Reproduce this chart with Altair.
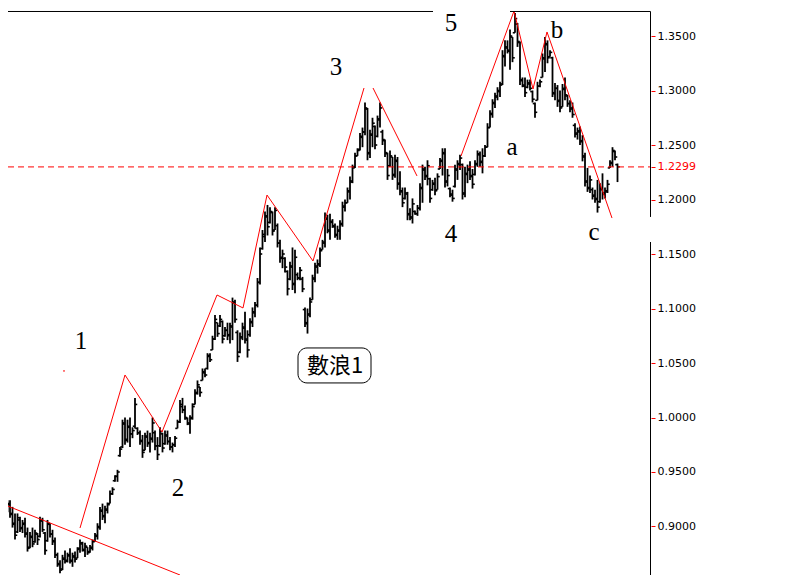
import altair as alt
import pandas as pd

# OHLC bars, prices in thousandths (e.g. 933 -> 0.933)
HIGH = [933,921,924,924,918,912,912,909,906,908, 899,895,899,897,894,909,908,895,906,903,
        897,890,876,869,874,878,876,880,876,877, 881,888,886,885,881,883,888,894,903,918,
        921,919,922,933,936,947,952,973,
        998,1000,998,1000,991,1018,991,988,984,986, 988,986,1000,988,982,991,986,988,988,982,
        977,983,998,1016,1018,1011,1000,1002,1013,1026, 1034,1028,
        1045,1045,1059,1059,1075,1094,1087,1094,1089,1083, 1087,1087,1110,1108,1080,1078,1087,1097,1080,1091,
        1101,1106,1128,1156,1172,1189,1195,1193,1189,1193, 1178,1163,1154,1147,1135,1143,1156,1154,1133,1138,
        1129,1101,1100,1110,1131,1142,1145,1156,1163,1188, 1186,1187,
        1182,1178,1176,1181,1198,1200,1211,1221,1232,1243, 1247,1261,1266,1289,1284,1264,1275,1268,1277,1289,
        1264,1255,1243,1245,1239,1241,1239,1226,1211,1211, 1207,1192,1201,1190,1195,1215,1232,1230,1236,1220,
        1218,1220,1224,1238,1247,1247,1228,1211,1209,1232, 1236,1241,1233,1230,1232,1235,1228,1236,1245,
        1244,1247,1250,1270,1282,1292,1298,1303,1308,1337, 1346,1346,1356,1349,1371,1362,1345,1312,1312,1310,
        1310,1300,1289,1308,1310,1334,1349,1346,1337,1331, 1307,1305,1300,1306,1312,1296,1291,1289,1270,1266,
        1267,1259,1243,1229,1222,1211,1209,1218,1215,1224, 1211,1218,1236,1248,1245,1233]
LOW = [910,909,913,908,899,888,894,895,894,890, 877,880,881,885,883,890,895,874,886,890,
       883,871,863,857,860,866,867,866,863,867, 871,876,877,872,874,876,878,886,888,897,
       906,903,912,921,929,941,941,964,
       972,975,977,973,981,990,984,975,963,970, 973,968,977,970,961,973,968,975,975,970,
       968,973,990,995,1004,998,993,985,998,1012, 1021,1019,
       1034,1037,1044,1051,1062,1071,1074,1083,1068,1074, 1071,1068,1071,1087,1051,1059,1071,1068,1055,1074,
       1083,1092,1101,1122,1154,1161,1167,1178,1167,1172, 1156,1142,1137,1133,1112,1126,1117,1114,1126,1126,
       1115,1083,1077,1092,1108,1124,1132,1138,1154,1156, 1169,1163,
       1174,1165,1163,1163,1175,1189,1197,1200,1215,1229, 1240,1245,1248,1259,1236,1238,1248,1246,1257,1266,
       1250,1239,1218,1230,1218,1220,1209,1204,1193,1200, 1181,1181,1178,1186,1185,1190,1197,1218,1213,1197,
       1208,1204,1209,1228,1222,1211,1212,1202,1198,1211, 1218,1227,1200,1202,1215,1218,1210,1222,1230,
       1230,1224,1239,1248,1266,1275,1284,1291,1294,1305, 1322,1334,1319,1326,1353,1340,1305,1303,1294,1302,
       1300,1289,1275,1291,1303,1312,1317,1325,1331,1294, 1291,1285,1280,1285,1291,1285,1280,1275,1257,1255,
       1250,1235,1212,1207,1206,1200,1197,1188,1197,1200, 1201,1206,1229,1230,1236,1216]
OPEN = [915,920,914,920,912,903,895,906,899,903, 894,881,890,886,893,891,905,894,887,902,
        893,886,874,865,861,870,869,873,868,872, 871,880,884,878,881,877,880,887,891,899,
        914,910,915,921,930,942,946,965,
        973,994,979,991,985,992,990,986,978,970, 982,977,980,986,974,974,985,976,983,978,
        973,975,990,996,1010,1007,999,994,1000,1012, 1023,1030,
        1034,1041,1045,1057,1062,1072,1088,1084,1088,1075, 1080,1076,1083,1105,1078,1060,1073,1082,1071,1076,
        1087,1096,1103,1124,1155,1166,1184,1179,1188,1172, 1176,1160,1147,1146,1134,1127,1138,1123,1131,1128,
        1127,1099,1086,1095,1108,1127,1138,1140,1154,1160, 1182,1171,
        1179,1175,1167,1171,1178,1193,1197,1207,1216,1230, 1240,1246,1257,1262,1283,1243,1259,1267,1258,1273,
        1262,1254,1242,1231,1239,1223,1235,1215,1207,1201, 1205,1187,1183,1189,1187,1192,1210,1227,1222,1219,
        1209,1214,1209,1228,1236,1242,1217,1210,1204,1212, 1227,1232,1232,1206,1223,1227,1222,1223,1232,
        1241,1235,1240,1248,1266,1278,1288,1294,1299,1306, 1331,1339,1336,1349,1353,1361,1344,1309,1304,1303,
        1306,1299,1288,1291,1304,1312,1329,1342,1331,1330, 1297,1302,1291,1285,1301,1295,1288,1284,1268,1261,
        1262,1254,1239,1217,1211,1209,1204,1201,1198,1209, 1206,1207,1229,1233,1244,1232]
CLOSE = [928,912,921,911,902,892,908,898,902,893, 880,891,884,894,888,906,897,878,903,893,
         887,874,866,860,871,868,874,869,873,870, 879,885,879,882,876,881,886,892,900,915,
         909,916,920,930,934,946,950,971,
         995,980,992,985,988,1012,986,979,968,983, 976,981,995,974,966,987,972,984,978,973,
         975,981,996,1012,1007,1000,995,999,1010,1022, 1030,1023,
         1042,1039,1056,1053,1072,1090,1077,1090,1072,1080, 1075,1084,1106,1090,1056,1074,1083,1072,1062,1088,
         1097,1103,1124,1150,1168,1185,1175,1189,1171,1190, 1160,1146,1150,1138,1118,1139,1122,1147,1128,1135,
         1118,1087,1094,1106,1128,1139,1141,1153,1161,1183, 1172,1180,
         1176,1168,1172,1177,1194,1197,1208,1217,1229,1240, 1245,1258,1262,1284,1242,1260,1270,1250,1274,1284,
         1255,1243,1222,1240,1222,1236,1214,1208,1197,1206, 1186,1184,1196,1187,1192,1211,1228,1221,1231,1201,
         1215,1208,1221,1235,1243,1216,1222,1205,1201,1228, 1233,1238,1205,1224,1228,1221,1214,1233,1242,
         1234,1240,1248,1266,1279,1289,1295,1300,1305,1332, 1340,1337,1350,1330,1366,1345,1310,1305,1298,1307,
         1302,1292,1280,1304,1308,1330,1343,1330,1335,1298, 1302,1290,1284,1302,1296,1288,1283,1278,1260,1263,
         1253,1240,1216,1210,1218,1203,1200,1193,1210,1205, 1208,1214,1234,1245,1239,1230]

LAST_PRICE = 1.2299
AXIS_VALUES = [0.90, 0.95, 1.00, 1.05, 1.10, 1.15, 1.20, 1.25, 1.30, 1.35, LAST_PRICE]

# Elliott wave annotation lines (bar index, price)
SEG_NAMES = ["trend", "trend",
             "w1", "w1", "w1", "w1", "w1", "w1", "w1", "w1",
             "w2", "w2",
             "w3", "w3", "w3", "w3", "w3",
             "dash", "dash"]
SEG_X = [-1, 71,
         31, 49, 63.8, 85.8, 96.2, 105.8, 124.2, 144.6,
         148.2, 165.8,
         183.4, 204.6, 212.2, 217.8, 243.8,
         24.2, 25.0]
SEG_Y = [0.9216, 0.8555,
         0.8986, 1.0390, 0.9867, 1.1124, 1.1005, 1.2041, 1.1436, 1.3023,
         1.3023, 1.2216,
         1.2399, 1.3729, 1.3014, 1.3537, 1.1830,
         1.0427, 1.0427]

LABEL_TEXT = ["1", "2", "3", "4", "5", "a", "b", "c"]
LABEL_X = [31.4, 70.2, 133.4, 179.4, 179.4, 203.8, 221.8, 236.6]
LABEL_Y = [1.0702, 0.9353, 1.3216, 1.1684, 1.3622, 1.2482, 1.3555, 1.1702]

BOX_TEXT = "數浪1"

X_DOMAIN = [2.2, 259.4]
Y_DOMAIN = [0.8555, 1.3757]

xs = alt.Scale(domain=X_DOMAIN, nice=False, zero=False)
ys = alt.Scale(domain=Y_DOMAIN, nice=False, zero=False)

Y_AXIS = alt.Axis(orient="right", values=AXIS_VALUES, format=".4f", grid=False,
                  domain=False, tickColor="red", tickSize=4, tickWidth=1,
                  labelFont="DejaVu Sans", labelFontSize=11, labelPadding=2,
                  labelOverlap=False, title=None,
                  labelColor={"condition": {"test": "abs(datum.value - 1.2299) < 0.00001",
                                            "value": "red"},
                              "value": "black"})


def X(field):
    return alt.X(field, scale=xs, axis=None)


def Y(field):
    return alt.Y(field, scale=ys, axis=Y_AXIS)


rows = []
for i, (h, l, o, c) in enumerate(zip(HIGH, LOW, OPEN, CLOSE)):
    o = min(max(o, l), h)
    c = min(max(c, l), h)
    rows.append({"i": i, "high": h / 1000, "low": l / 1000, "open": o / 1000, "close": c / 1000})
bars = pd.DataFrame(rows)

base = alt.Chart(bars)
stems = base.mark_rule(color="black", strokeWidth=1.8, clip=True).encode(
    x=X("i:Q"), y=Y("low:Q"), y2="high:Q")
open_ticks = base.transform_calculate(xa="datum.i - 0.9").mark_rule(
    color="black", strokeWidth=1.6, clip=True).encode(
    x=X("xa:Q"), x2="i:Q", y=Y("open:Q"))
close_ticks = base.transform_calculate(xb="datum.i + 0.9").mark_rule(
    color="black", strokeWidth=1.6, clip=True).encode(
    x=X("i:Q"), x2="xb:Q", y=Y("close:Q"))

# dashed last-price line
last_df = pd.DataFrame({"x": [X_DOMAIN[0]], "x2": [X_DOMAIN[1]], "y": [LAST_PRICE]})
last_line = alt.Chart(last_df).mark_rule(color="red", strokeWidth=1, strokeDash=[6, 4]).encode(
    x=X("x:Q"), x2="x2:Q", y=Y("y:Q"))

# frame lines (top border and right axis line with its gap)
frame_df = pd.DataFrame({
    "x": [X_DOMAIN[0], 203.0, 259.2, 259.2],
    "x2": [172.2, 259.2, 259.2, 259.2],
    "y": [1.3725, 1.3725, 1.3725, 1.1610],
    "y2": [1.3725, 1.3725, 1.1840, 0.8555],
})
frame = alt.Chart(frame_df).mark_rule(color="black", strokeWidth=1).encode(
    x=X("x:Q"), x2="x2:Q", y=Y("y:Q"), y2="y2:Q")

seg_df = pd.DataFrame({"seg": SEG_NAMES, "x": SEG_X, "y": SEG_Y,
                       "k": list(range(len(SEG_X)))})
waves = alt.Chart(seg_df).mark_line(color="red", strokeWidth=1, clip=True).encode(
    x=X("x:Q"), y=Y("y:Q"), detail="seg:N", order="k:Q")

lab_df = pd.DataFrame({"t": LABEL_TEXT, "x": LABEL_X, "y": LABEL_Y})
labels = alt.Chart(lab_df).mark_text(font="Liberation Serif", fontSize=25, color="black",
                                     align="center", baseline="middle").encode(
    x=X("x:Q"), y=Y("y:Q"), text="t:N")

box_df = pd.DataFrame({"x": [118.2], "x2": [147.4], "y": [1.0317], "y2": [1.0638],
                       "tx": [133.0], "ty": [1.0472], "t": [BOX_TEXT]})
box = alt.Chart(box_df).mark_rect(fill="white", stroke="black", strokeWidth=1,
                                  cornerRadius=9).encode(
    x=X("x:Q"), x2="x2:Q", y=Y("y:Q"), y2="y2:Q")
box_text = alt.Chart(box_df).mark_text(font="Noto Sans CJK TC", fontSize=22, color="black",
                                       align="center", baseline="middle").encode(
    x=X("tx:Q"), y=Y("ty:Q"), text="t:N")

chart = alt.layer(stems, open_ticks, close_ticks, last_line, waves, frame, labels, box, box_text
                  ).properties(
    width=643, height=567,
    padding={"left": 0, "top": 0, "right": 80, "bottom": 0},
    autosize=alt.AutoSizeParams(type="none"),
    background="white",
).configure_view(stroke=None)

chart.save("out.html", embed_options={"renderer": "svg", "actions": False})
